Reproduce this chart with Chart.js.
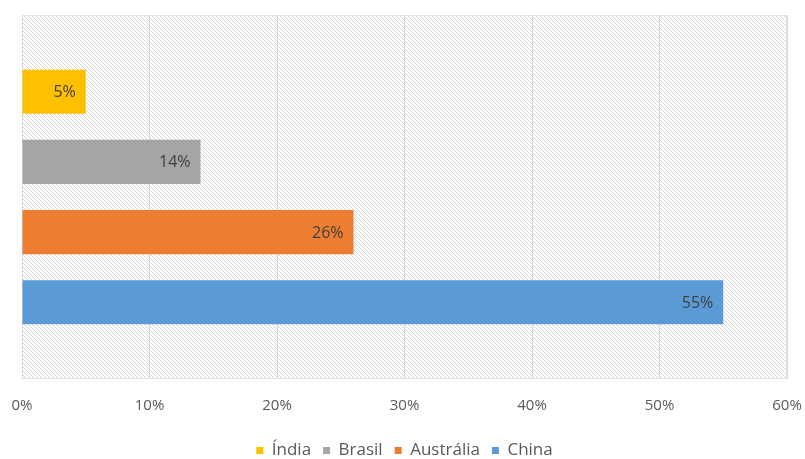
<!DOCTYPE html>
<html>
<head>
<meta charset="utf-8">
<script src="https://cdn.jsdelivr.net/npm/chart.js@4/dist/chart.umd.min.js"></script>
<style>
  html, body { margin: 0; padding: 0; background: #fff; }
  #wrap { width: 805px; height: 459px; }
</style>
</head>
<body>
<div id="wrap"><canvas id="c"></canvas></div>
<script>
// --- data
const countries = ['Índia', 'Brasil', 'Austrália', 'China'];
const shares = [5, 14, 26, 55];
const colors = ['#FFC000', '#A5A5A5', '#ED7D31', '#5B9BD5'];
const xTicks = [0, 10, 20, 30, 40, 50, 60];

const FONT = "'Open Sans', 'Liberation Sans', sans-serif";

// diagonal hatch behind the plot area
function hatchPattern() {
  const s = 4;
  const p = document.createElement('canvas');
  p.width = s; p.height = s;
  const g = p.getContext('2d');
  g.fillStyle = '#fff';
  g.fillRect(0, 0, s, s);
  g.strokeStyle = '#d6d6d6';
  g.lineWidth = 1;
  g.beginPath();
  g.moveTo(0, 0); g.lineTo(s, s);
  g.moveTo(-s, 0); g.lineTo(s, 2 * s);
  g.moveTo(0, -s); g.lineTo(2 * s, s);
  g.stroke();
  return p;
}

const hatchPlugin = {
  id: 'hatch',
  beforeDraw(chart) {
    const { ctx, chartArea: a } = chart;
    ctx.save();
    ctx.fillStyle = ctx.createPattern(hatchPattern(), 'repeat');
    ctx.fillRect(a.left, a.top, a.right - a.left, a.bottom - a.top);
    ctx.strokeStyle = '#e2e2e2';
    ctx.lineWidth = 1;
    ctx.strokeRect(a.left + 0.5, a.top + 0.5, a.right - a.left - 1, a.bottom - a.top - 1);
    ctx.restore();
  }
};

// value labels at the inside end of each bar
const valueLabels = {
  id: 'valueLabels',
  afterDatasetsDraw(chart) {
    const ctx = chart.ctx;
    ctx.save();
    ctx.font = '16px ' + FONT;
    ctx.fillStyle = '#404040';
    ctx.textAlign = 'right';
    ctx.textBaseline = 'middle';
    chart.data.datasets.forEach((ds, i) => {
      chart.getDatasetMeta(i).data.forEach((bar, j) => {
        ctx.fillText(ds.data[j] + '%', bar.x - 10, bar.y + 1);
      });
    });
    ctx.restore();
  }
};

new Chart(document.getElementById('c'), {
  type: 'bar',
  data: {
    labels: [''],
    datasets: countries.map((name, i) => ({
      label: name,
      data: [shares[i]],
      backgroundColor: colors[i],
      borderWidth: 0,
      categoryPercentage: 0.771,
      barPercentage: 0.63
    }))
  },
  options: {
    indexAxis: 'y',
    responsive: true,
    maintainAspectRatio: false,
    animation: false,
    layout: { padding: { left: 22, right: 18, top: 15, bottom: -10 } },
    plugins: {
      tooltip: { enabled: false },
      legend: {
        position: 'bottom',
        labels: {
          boxWidth: 7,
          boxHeight: 7,
          padding: 12,
          color: '#595959',
          font: { family: FONT, size: 17 }
        }
      }
    },
    scales: {
      x: {
        min: 0,
        max: 60,
        afterBuildTicks: axis => { axis.ticks = xTicks.map(v => ({ value: v })); },
        afterFit: scale => {
          scale.height = 51;
          scale.paddingLeft = 0;
          scale.paddingRight = 0;
        },
        ticks: {
          callback: v => v + '%',
          color: '#595959',
          padding: 18,
          font: { family: FONT, size: 15 }
        },
        grid: { color: '#d9d9d9', drawTicks: false },
        border: { display: false }
      },
      y: { display: false }
    }
  },
  plugins: [hatchPlugin, valueLabels]
});
</script>
</body>
</html>
